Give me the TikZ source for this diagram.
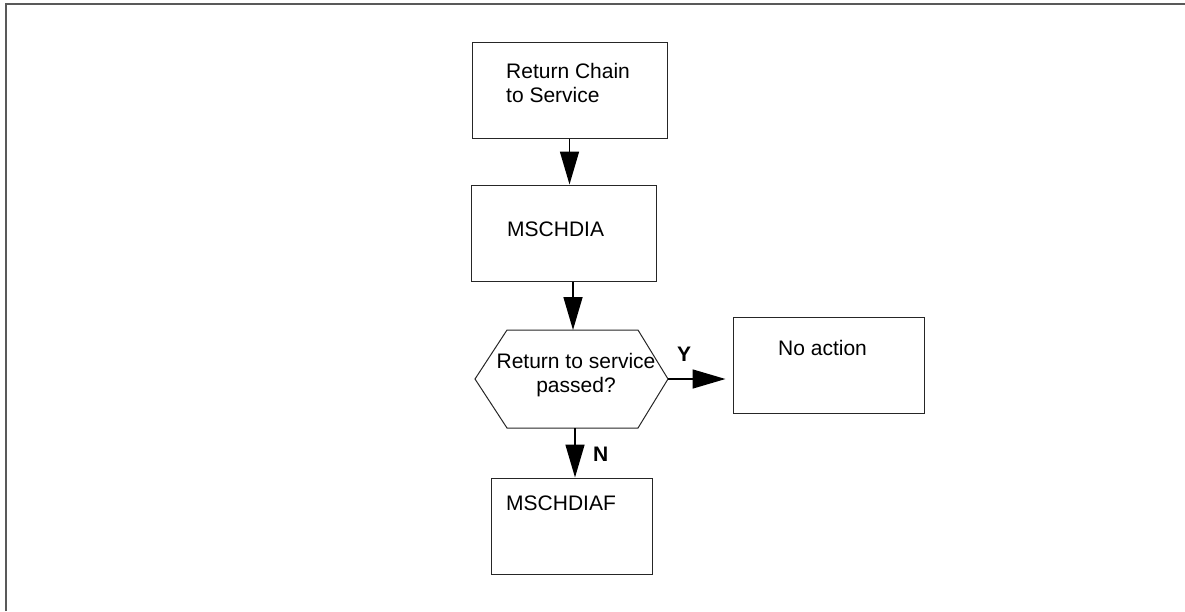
\documentclass[tikz,border=0pt]{standalone}
\usepackage{fontspec}
\setmainfont{Liberation Sans}
\usetikzlibrary{arrows.meta}

\begin{document}
\begin{tikzpicture}[x=1pt,y=-1pt,
	box/.style={draw=black!85,line width=1pt,inner sep=0},
	outline/.style={draw=black!85,line width=1pt},
	txt/.style={inner sep=0,anchor=north west,align=left,font=\fontsize{21}{24}\selectfont},
	flow/.style={line width=1.6pt,-{Triangle[length=33pt,width=19pt]}}]
	\useasboundingbox (0,0) rectangle (1185,611);
	\draw[line width=1.5pt,black!65] (6,611)--(6,4)--(1185,4);
	% the boxes
	\node[box,minimum width=195pt,minimum height=96pt] (chain) at (569.5,90){};
	\node[box,minimum width=185pt,minimum height=96pt] (mschdia) at (563.5,233){};
	\node[box,minimum width=191pt,minimum height=96pt] (noaction) at (828.5,365){};
	\node[box,minimum width=161pt,minimum height=96pt] (mschdiaf) at (571.5,526){};
	\node[txt] (chaintxt) at (506,62.7){Return Chain\\to Service};
	\node[txt] (mschdiatxt) at (507,221.5){MSCHDIA};
	\node[txt] (noactiontxt) at (778,340){No action};
	\node[txt] (mschdiaftxt) at (506,496){MSCHDIAF};
	% decision
	\coordinate (hexT) at (573,330);
	\coordinate (hexR) at (668,379);
	\coordinate (hexB) at (575,428);
	\draw[outline] (475,379)--(507,330)--(638,330)--(668,379)--(638,428)--(507,428)--cycle;
	\node[txt,anchor=center,align=center] (ask) at (576,375){Return to service\\passed?};
	% arrows
	\draw[flow] (chain.south)--(chain.south |- mschdia.north);
	\draw[flow] (hexT |- mschdia.south)--(hexT);
	\draw[flow,shorten >=7pt] (hexR)--(hexR -| noaction.west);
	\draw[flow] (hexB)--(hexB |- mschdiaf.north);
	\node[txt,font=\fontsize{21}{24}\selectfont\bfseries] (yes) at (677,347){Y};
	\node[txt,font=\fontsize{21}{24}\selectfont\bfseries] (no) at (593,447){N};
\end{tikzpicture}
\end{document}
